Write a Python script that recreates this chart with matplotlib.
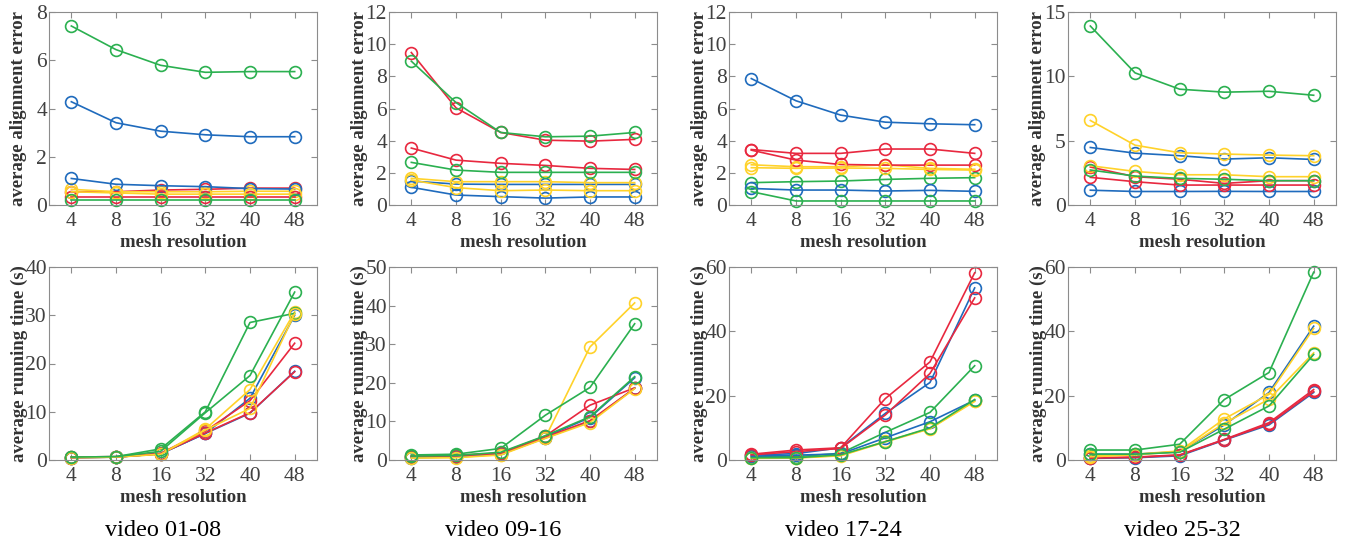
import matplotlib
matplotlib.use("Agg")
import matplotlib.pyplot as plt
import numpy as np

plt.rcParams['font.family'] = ['Liberation Serif', 'DejaVu Serif']

resolutions = ['4', '8', '16', '32', '40', '48']
groups = ['video 01-08', 'video 09-16', 'video 17-24', 'video 25-32']

# series order in every panel: blue, red, yellow, green, blue, red, yellow, green
err_01_08 = [
    [4.28, 3.41, 3.06, 2.91, 2.83, 2.83],
    [0.55, 0.55, 0.62, 0.65, 0.70, 0.70],
    [0.65, 0.55, 0.55, 0.55, 0.57, 0.57],
    [7.42, 6.44, 5.79, 5.50, 5.53, 5.53],
    [1.10, 0.86, 0.80, 0.76, 0.68, 0.66],
    [0.35, 0.35, 0.35, 0.35, 0.35, 0.35],
    [0.55, 0.50, 0.45, 0.45, 0.45, 0.45],
    [0.20, 0.20, 0.20, 0.20, 0.20, 0.20],
]
err_09_16 = [
    [1.49, 1.30, 1.28, 1.28, 1.28, 1.28],
    [9.48, 6.04, 4.51, 4.03, 3.97, 4.08],
    [1.66, 1.45, 1.45, 1.45, 1.39, 1.39],
    [8.94, 6.37, 4.51, 4.24, 4.28, 4.51],
    [1.10, 0.62, 0.52, 0.43, 0.50, 0.50],
    [3.54, 2.79, 2.59, 2.46, 2.28, 2.21],
    [1.55, 1.08, 0.89, 0.93, 0.89, 0.89],
    [2.65, 2.17, 2.03, 2.03, 2.03, 2.03],
]
err_17_24 = [
    [7.86, 6.48, 5.59, 5.15, 5.05, 4.99],
    [3.45, 3.21, 3.21, 3.48, 3.48, 3.21],
    [2.50, 2.38, 2.38, 2.50, 2.28, 2.22],
    [1.39, 1.45, 1.49, 1.59, 1.66, 1.70],
    [1.03, 0.93, 0.93, 0.87, 0.91, 0.85],
    [3.41, 2.79, 2.52, 2.48, 2.48, 2.48],
    [2.32, 2.28, 2.30, 2.28, 2.21, 2.17],
    [0.83, 0.25, 0.25, 0.25, 0.25, 0.25],
]
err_25_32 = [
    [4.47, 4.03, 3.83, 3.57, 3.67, 3.54],
    [2.95, 2.20, 2.00, 1.68, 1.89, 1.89],
    [6.57, 4.65, 4.06, 3.96, 3.88, 3.83],
    [13.91, 10.27, 9.00, 8.77, 8.84, 8.53],
    [1.15, 1.05, 1.05, 1.06, 1.05, 1.05],
    [2.15, 1.81, 1.55, 1.55, 1.55, 1.55],
    [3.05, 2.61, 2.35, 2.35, 2.20, 2.20],
    [2.72, 2.25, 2.07, 2.00, 1.89, 1.89],
]
time_01_08 = [
    [0.5, 0.6, 1.3, 5.5, 12.8, 30.0],
    [0.6, 0.7, 1.4, 6.0, 12.3, 24.2],
    [0.5, 0.6, 1.2, 6.4, 14.6, 30.7],
    [0.6, 0.7, 2.3, 10.0, 28.5, 30.4],
    [0.5, 0.6, 1.3, 5.5, 9.7, 18.4],
    [0.5, 0.6, 1.3, 5.6, 9.8, 18.3],
    [0.5, 0.6, 1.2, 6.2, 10.7, 30.3],
    [0.6, 0.7, 1.8, 9.8, 17.5, 34.8],
]
time_09_16 = [
    [0.8, 1.0, 1.6, 6.0, 11.0, 21.3],
    [1.0, 1.2, 1.8, 6.2, 14.2, 18.7],
    [0.6, 0.7, 1.4, 5.8, 29.3, 40.7],
    [1.3, 1.5, 3.0, 11.6, 18.8, 35.3],
    [0.6, 0.8, 1.5, 5.7, 10.0, 18.6],
    [0.9, 1.1, 1.7, 5.9, 10.2, 18.6],
    [0.5, 0.6, 1.3, 5.6, 9.7, 18.5],
    [1.0, 1.2, 2.0, 6.3, 11.2, 21.6],
]
time_17_24 = [
    [1.5, 2.0, 3.8, 14.5, 24.1, 53.5],
    [1.8, 3.1, 3.8, 19.1, 30.5, 58.2],
    [0.6, 0.7, 1.4, 5.8, 9.8, 18.4],
    [1.0, 1.0, 2.1, 8.6, 14.8, 29.3],
    [1.2, 1.5, 1.9, 6.9, 11.9, 18.6],
    [1.6, 2.6, 3.6, 14.0, 26.9, 50.4],
    [0.5, 0.6, 1.3, 5.6, 9.7, 18.2],
    [0.7, 0.7, 1.6, 5.7, 10.0, 18.8],
]
time_25_32 = [
    [1.8, 1.8, 2.6, 10.9, 21.0, 41.6],
    [0.7, 0.9, 1.6, 6.4, 11.6, 21.9],
    [1.2, 1.8, 2.8, 12.8, 20.4, 40.9],
    [3.1, 3.1, 4.9, 18.8, 27.2, 58.4],
    [0.5, 0.7, 1.3, 6.2, 10.9, 21.0],
    [0.6, 0.8, 1.5, 6.3, 11.2, 21.3],
    [1.0, 1.6, 2.6, 11.4, 18.9, 33.3],
    [1.8, 1.8, 2.4, 9.6, 16.8, 32.8],
]

err_ymax = [8, 12, 12, 15]
err_ystep = [2, 2, 2, 5]
time_ymax = [40, 50, 60, 60]
time_ystep = [10, 10, 20, 20]

colors = ['#1f6bbd', '#e8283f', '#ffd22a', '#2bb050'] * 2

W, H = 1355, 546
fig = plt.figure(figsize=(W / 100, H / 100), dpi=100)

col_left = [49, 389, 729, 1068]
ax_w = 268
row_top = [12, 267]
ax_h = 193

grey = '#8c8c8c'
txt = '#333333'

def style(ax, ymax, ystep):
    ax.set_xlim(-0.5, len(resolutions) - 0.5)
    ax.set_ylim(0, ymax)
    ax.set_xticks(np.arange(len(resolutions)))
    ax.set_xticklabels(resolutions)
    ax.set_yticks(np.arange(0, ymax + 0.1, ystep))
    ax.tick_params(direction='in', top=True, right=True, length=4,
                   width=0.8, color=grey, labelsize=15.5, labelcolor='#404040')
    ax.tick_params(axis='x', pad=5)
    ax.tick_params(axis='y', pad=1.5)
    for s in ax.spines.values():
        s.set_color(grey)
        s.set_linewidth(0.8)

err_all = [err_01_08, err_09_16, err_17_24, err_25_32]
time_all = [time_01_08, time_09_16, time_17_24, time_25_32]

xs = np.arange(len(resolutions))
for j in range(4):
    for r, (data, ymax, ystep, ylabel) in enumerate([
            (err_all[j], err_ymax[j], err_ystep[j], 'average alignment error'),
            (time_all[j], time_ymax[j], time_ystep[j], 'average running time (s)')]):
        ax = fig.add_axes([col_left[j] / W, 1 - (row_top[r] + ax_h) / H,
                           ax_w / W, ax_h / H])
        for k, series in enumerate(data):
            ax.plot(xs, series, '-o', color=colors[k], lw=1.2, ms=8.5,
                    mfc='none', mew=1.2, clip_on=False)
        style(ax, ymax, ystep)
        ax.set_ylabel(ylabel, fontsize=13.5, fontweight='bold', color=txt)
        ax.yaxis.set_label_coords(-30 / ax_w, 0.5)
        ax.yaxis.label.set_va('center')
        ax.set_xlabel('mesh resolution', fontsize=13.5, fontweight='bold',
                      color=txt, labelpad=2)
    cx = (col_left[j] + ax_w / 2 - 20) / W
    fig.text(cx, 1 - 531 / H, groups[j], ha='center', va='center',
             fontsize=17.5, color='black')

fig.savefig('out.png', dpi=100)
